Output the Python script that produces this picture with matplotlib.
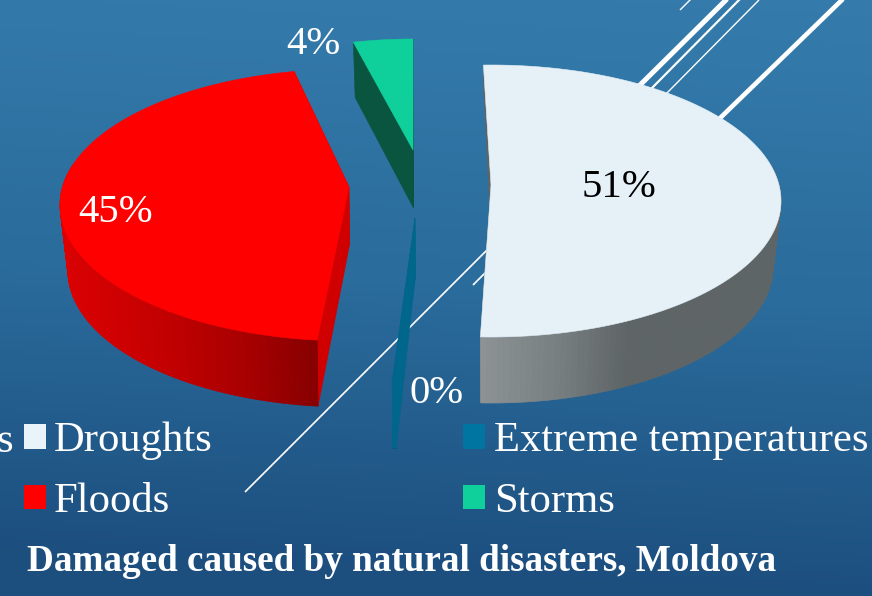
import numpy as np
import matplotlib
matplotlib.use("Agg")
import matplotlib.pyplot as plt
from matplotlib.collections import PolyCollection
from matplotlib.colors import LinearSegmentedColormap
from matplotlib.patches import Patch, Polygon

# Pie values, listed in clockwise order starting from the top
categories = ["Droughts", "Extreme temperatures", "Floods", "Storms"]
shares = [51, 0.2, 45.2, 3.6]

# Legend goes column by column
legendOrder = ["Droughts", "Floods", "Extreme temperatures", "Storms"]
chartTitle = "Damaged caused by natural disasters, Moldova"

topColors = {"Droughts": "#E5F0F7", "Extreme temperatures": "#00668C", "Floods": "#FF0000", "Storms": "#0FCF9A"}
swatchColors = {"Droughts": "#E8F3FA", "Extreme temperatures": "#0075A2", "Floods": "#FF0000", "Storms": "#0FCF9A"}
cutColors = {"Droughts": "#5E6567", "Extreme temperatures": "#00668C", "Floods": "#D00000", "Storms": "#0A5540"}
wallColors = {
    "Droughts": ["#8E9496", "#7A8183", "#5F6566", "#5F6566", "#5F6566"],
    "Extreme temperatures": ["#00668C", "#00668C"],
    "Floods": ["#DD0000", "#CF0000", "#BC0000", "#A60000", "#880000"],
    "Storms": ["#0A5540", "#0A5540"],
}

# Layout of each exploded slice in pixels: tip, ellipse centre, radii, extra turn, wall height at the back
sliceLayout = {
    "Droughts": dict(tip=(491, 185), centre=(491, 201), rx=290, ry=136, turn=0.5, back=25),
    "Extreme temperatures": dict(tip=(415, 218), centre=(409, 252), rx=289, ry=130, turn=0, back=55),
    "Floods": dict(tip=(349, 187), centre=(349, 205), rx=289, ry=136, turn=-3.0, back=55),
    "Storms": dict(tip=(413, 150), centre=(413, 165), rx=266, ry=126, turn=-1, back=55),
}
labelSpots = {"Droughts": (619, 197, "black"), "Extreme temperatures": (437, 403, "white"),
              "Floods": (116, 222, "white"), "Storms": (313, 54, "white")}

# White diagonal streaks of the slide background: x0, y0, x1, y1, width in pixels
streaks = [
    (637, 88, 728, -2, 5), (650, 90, 740, -1, 2.2), (664, 96, 759, 0, 1.4),
    (716, 122, 844, -2, 4.6), (680, 10, 691, -1, 1.4),
    (245, 492, 490, 247, 1.7), (473, 285, 490, 268, 1.7),
]

SERIF = "Liberation Serif"
DPI = 100
FRONT_WALL = 66


def rim_points(layout, angles):
    cx, cy = layout["centre"]
    a = np.radians(angles)
    return np.column_stack([cx + layout["rx"] * np.cos(a), cy - layout["ry"] * np.sin(a)])


def draw_slice(ax, name, startAngle, endAngle):
    layout = sliceLayout[name]
    angles = np.linspace(startAngle, endAngle, 160)
    sines = np.sin(np.radians(angles))
    rim = rim_points(layout, angles)
    tip = np.array(layout["tip"], dtype=float)
    tipLow = tip + [0.5, 58]

    # wall is a bit shorter at the back and leans inward at the sides
    lowRim = rim.copy()
    lowRim[:, 1] += FRONT_WALL - (FRONT_WALL - layout["back"]) * np.clip(sines, 0, 1)
    lowRim[:, 0] -= 8 * np.cos(np.radians(angles))

    # Two cut faces go under everything else
    for rimPt, lowPt in ((rim[0], lowRim[0]), (rim[-1], lowRim[-1])):
        ax.add_patch(Polygon([tip, tipLow, lowPt, rimPt], closed=True, fc=cutColors[name], ec=cutColors[name], lw=0.4, zorder=3))

    # Outer wall as small quads shaded left to right, the far back stays hidden anyway
    cmap = LinearSegmentedColormap.from_list(name + "Wall", wallColors[name])
    x0, x1 = rim[:, 0].min(), rim[:, 0].max()
    quads, shades = [], []
    for i in range(len(angles) - 1):
        if sines[i] > 0.3:
            continue
        quads.append([rim[i], rim[i + 1], lowRim[i + 1], lowRim[i]])
        shades.append(cmap((rim[i, 0] - x0) / max(x1 - x0, 1)))
    if quads:
        ax.add_collection(PolyCollection(quads, facecolors=shades, edgecolors=shades, linewidths=0.5, zorder=4))

    ax.add_patch(Polygon(np.vstack([tip, rim]), closed=True, fc=topColors[name], ec=topColors[name], lw=0.4, zorder=5))


fig = plt.figure(figsize=(8.72, 5.96), dpi=DPI)
ax = fig.add_axes([0, 0, 1, 1])

# Slide background, blue gradient tilted a little
yy, xx = np.mgrid[0:1:150j, 0:1:220j]
bg = LinearSegmentedColormap.from_list("slide", ["#347BAB", "#2A6C9C", "#1C4E7E"])
ax.imshow(np.clip(yy + 0.08 * (1 - xx) - 0.02, 0, 1), cmap=bg, extent=(0, 872, 596, 0), aspect="auto", vmin=0, vmax=1, zorder=0)

for x0, y0, x1, y1, w in streaks:
    ax.plot([x0, x1], [y0, y1], color="white", lw=w * 72 / DPI, solid_capstyle="butt", zorder=1)

# Slice angles come from the values, clockwise from just past the top
sweep = 360 * np.array(shares) / sum(shares)
edges = 91 - np.concatenate([[0], np.cumsum(sweep)])
drawOrder = ["Floods", "Storms", "Extreme temperatures", "Droughts"]
for name in drawOrder:
    i = categories.index(name)
    turn = sliceLayout[name]["turn"]
    draw_slice(ax, name, edges[i] + turn, edges[i + 1] + turn)

for name, value in zip(categories, shares):
    x, y, color = labelSpots[name]
    ax.text(x, y, f"{round(value)}%", color=color, family=SERIF, fontsize=29.3, ha="center", va="baseline", zorder=6)

handles = [Patch(color=swatchColors[n], lw=0) for n in legendOrder]
ax.legend(handles, legendOrder, ncol=2, frameon=False, loc="upper left", bbox_to_anchor=(23.5 / 872, 1 - 422 / 596),
          borderaxespad=0, borderpad=0, prop={"family": SERIF, "size": 30.7}, labelcolor="white",
          handlelength=0.52, handleheight=0.52, handletextpad=0.2, columnspacing=5.87, labelspacing=0.52)

# Legend entry cut off by the slide edge
ax.text(13, 452, "s", color="white", family=SERIF, fontsize=30.7, ha="right", va="baseline", zorder=6)
ax.text(27, 571, chartTitle, color="white", family=SERIF, fontsize=26.75, fontweight="bold", ha="left", va="baseline", zorder=6)

ax.set_xlim(0, 872)
ax.set_ylim(596, 0)
ax.axis("off")

plt.savefig("out.png", dpi=DPI)
plt.close()
